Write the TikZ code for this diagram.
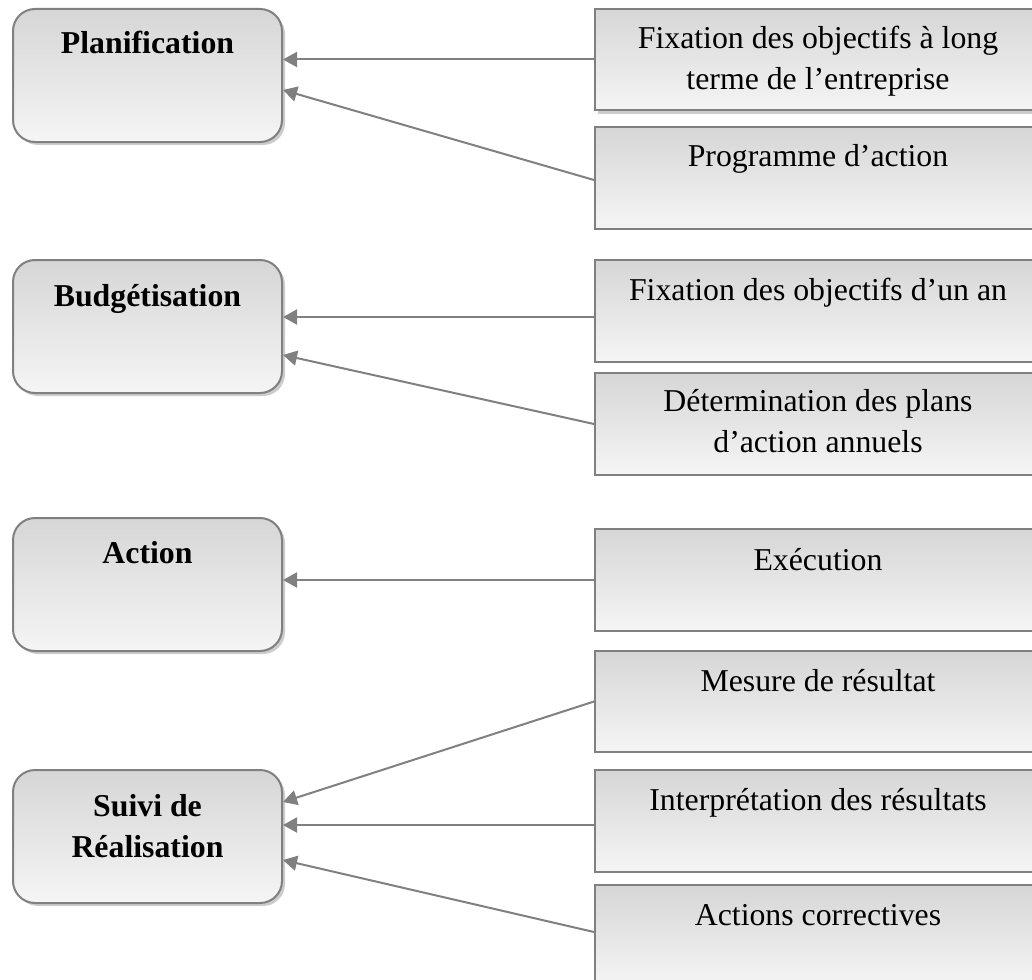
\documentclass[tikz,border=0pt]{standalone}
\usepackage{fontspec}
\setmainfont{Liberation Serif}
\usetikzlibrary{arrows.meta,shadows}
\definecolor{edgegray}{HTML}{808080}
\definecolor{topgray}{HTML}{D6D6D6}
\definecolor{botgray}{HTML}{F5F5F5}
\begin{document}
\begin{tikzpicture}[x=0.5pt,y=-0.5pt,
 leftbox/.style={draw=edgegray, line width=1pt, rounded corners=11pt, top color=topgray, bottom color=botgray, minimum width=134.5pt, minimum height=66.5pt, inner sep=0pt, drop shadow={shadow xshift=1.5pt, shadow yshift=-1.5pt, fill=black!40, opacity=0.5}},
 rightbox/.style={draw=edgegray, line width=1pt, top color=topgray, bottom color=botgray, minimum width=223pt, minimum height=51pt, inner sep=0pt},
 rshadow/.style={drop shadow={shadow xshift=1.5pt, shadow yshift=-2pt, fill=black!40, opacity=0.5}},
 title/.style={font=\fontsize{15.9}{20.5}\selectfont\bfseries, align=center, anchor=base, inner sep=0pt},
 body/.style={font=\fontsize{15.9}{20.5}\selectfont, align=center, anchor=base, inner sep=0pt},
 conn/.style={draw=edgegray, line width=1pt, -{Triangle[length=7pt,width=7.5pt]}}
]
\useasboundingbox (0,0) rectangle (1032,979);
\clip (0,0) rectangle (1032,979);

% left boxes
\node[leftbox] (P) at (147.5,75.5) {};
\node[leftbox] (B) at (147.5,326.5) {};
\node[leftbox] (A) at (147.5,584.5) {};
\node[leftbox] (S) at (147.5,836.5) {};
\node[title] (Pt) at ([yshift=-23pt]P.north) {Planification};
\node[title] (Bt) at ([yshift=-23.5pt]B.north) {Budgétisation};
\node[title] (At) at ([yshift=-23pt]A.north) {Action};
\node[title] (St) at ([yshift=-44pt]S.north) {Suivi de\\Réalisation};

% right boxes
\node[rightbox, rshadow, minimum height=50.5pt] (R1) at (818,59.5) {};
\node[rightbox] (R2) at (818,178) {};
\node[rightbox] (R3) at (818,311) {};
\node[rightbox] (R4) at (818,424) {};
\node[rightbox] (R5) at (818,580) {};
\node[rightbox, minimum height=50.5pt] (R6) at (818,701.5) {};
\node[rightbox] (R7) at (818,821) {};
\node[rightbox] (R8) at (818,936) {};
\node[body] (R1t) at ([yshift=-41pt]R1.north) {Fixation des objectifs à long\\terme de l’entreprise};
\node[body] (R2t) at ([yshift=-20pt]R2.north) {Programme d’action};
\node[body] (R3t) at ([yshift=-20.5pt]R3.north) {Fixation des objectifs d’un an};
\node[body] (R4t) at ([yshift=-40pt]R4.north) {Détermination des plans\\d’action annuels};
\node[body] (R5t) at ([yshift=-21pt]R5.north) {Exécution};
\node[body] (R6t) at ([yshift=-20.5pt]R6.north) {Mesure de résultat};
\node[body] (R7t) at ([yshift=-20.5pt]R7.north) {Interprétation des résultats};
\node[body] (R8t) at ([yshift=-20.5pt]R8.north) {Actions correctives};

% connectors
\draw[conn] (R1.west) -- (R1.west -| P.east);
\draw[conn] ([yshift=-1pt]R2.west) -- ([yshift=-7.25pt]P.east);
\draw[conn] ([yshift=-3pt]R3.west) -- ([yshift=-3pt]R3.west -| B.east);
\draw[conn] (R4.west) -- ([yshift=-14.25pt]B.east);
\draw[conn] (R5.west) -- (R5.west -| A.east);
\draw[conn] (R6.west) -- ([yshift=17.25pt]S.east);
\draw[conn] ([yshift=-2pt]R7.west) -- ([yshift=-2pt]R7.west -| S.east);
\draw[conn] ([yshift=2pt]R8.west) -- ([yshift=-11.75pt]S.east);
\end{tikzpicture}
\end{document}
